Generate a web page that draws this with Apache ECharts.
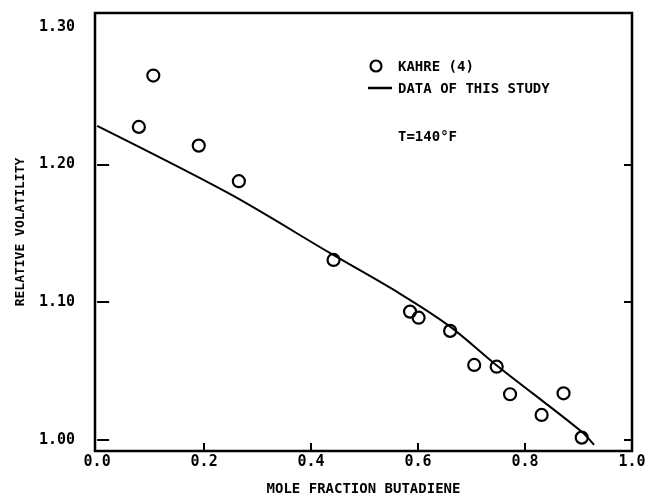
<!DOCTYPE html>
<html><head><meta charset="utf-8">
<script src="https://cdn.jsdelivr.net/npm/echarts@6/dist/echarts.min.js"></script>
<style>html,body{margin:0;padding:0;background:#fff}#c{width:648px;height:497px}</style>
</head><body><div id="c"></div>
<script>
const kahreX = [0.078, 0.105, 0.190, 0.265, 0.442, 0.585, 0.601, 0.660, 0.705, 0.747, 0.772, 0.831, 0.872, 0.906];
const kahreY = [1.2273, 1.2646, 1.2137, 1.1879, 1.1307, 1.0932, 1.0888, 1.0792, 1.0545, 1.0532, 1.0332, 1.0182, 1.0339, 1.0017];
const studyX = [0.0, 0.248, 0.435, 0.565, 0.660, 0.746, 0.906, 0.929];
const studyY = [1.228, 1.1786, 1.1358, 1.1065, 1.0823, 1.0545, 1.006, 0.9964];
const xTicks = [0.0, 0.2, 0.4, 0.6, 0.8, 1.0];
const yTicks = [1.00, 1.10, 1.20, 1.30];
const xTitle = 'MOLE FRACTION BUTADIENE';
const yTitle = 'RELATIVE VOLATILITY';
const legendNames = ['KAHRE (4)', 'DATA OF THIS STUDY'];
const noteText = 'T=140°F';

const FONT = '"DejaVu Sans Mono", monospace';
const chart = echarts.init(document.getElementById('c'), null, {renderer: 'canvas'});
chart.setOption({
  animation: false,
  backgroundColor: '#fff',
  grid: {left: 95, right: 16, top: 13, bottom: 46, outerBoundsMode: 'none', containLabel: false, show: true, borderColor: '#000', borderWidth: 2.5, backgroundColor: 'transparent'},
  xAxis: {
    type: 'value', min: -0.004, max: 1.0,
    axisLine: {show: false},
    splitLine: {show: false},
    axisTick: {show: true, inside: true, length: 8, lineStyle: {color: '#000', width: 2}, customValues: xTicks.slice(1, 5)},
    axisLabel: {show: true, customValues: xTicks, formatter: v => v.toFixed(1), color: '#000', fontFamily: FONT, fontSize: 15, fontWeight: 'bold', margin: 4},
    name: xTitle, nameLocation: 'middle', nameGap: 31,
    nameTextStyle: {color: '#000', fontFamily: FONT, fontSize: 14, fontWeight: 'bold'}
  },
  yAxis: [{
    type: 'value', min: 0.992, max: 1.31,
    axisLine: {show: false},
    splitLine: {show: false},
    axisTick: {show: true, inside: true, length: 12, lineStyle: {color: '#000', width: 2}, customValues: yTicks.slice(0, 3)},
    axisLabel: {show: true, customValues: yTicks, formatter: v => v.toFixed(2), color: '#000', fontFamily: FONT, fontSize: 15, fontWeight: 'bold', margin: 20},
    name: yTitle, nameLocation: 'middle', nameGap: 68, nameRotate: 90,
    nameTextStyle: {color: '#000', fontFamily: FONT, fontSize: 13, fontWeight: 'bold'}
  }, {
    type: 'value', min: 0.992, max: 1.31, position: 'right',
    axisLine: {show: false}, splitLine: {show: false}, axisLabel: {show: false},
    axisTick: {show: true, inside: true, length: 8, lineStyle: {color: '#000', width: 2}, customValues: yTicks.slice(0, 3)}
  }],
  series: [{
    name: legendNames[1], type: 'line',
    xAxisIndex: 0, yAxisIndex: 0,
    data: studyX.map((x, i) => [x, studyY[i]]),
    smooth: 0.3, showSymbol: false, symbol: 'none',
    lineStyle: {color: '#000', width: 2}, z: 2
  }, {
    name: legendNames[0], type: 'line',
    xAxisIndex: 0, yAxisIndex: 0,
    data: kahreX.map((x, i) => [x, kahreY[i]]),
    lineStyle: {width: 0, opacity: 0},
    symbol: 'circle', symbolSize: 12, showSymbol: true, showAllSymbol: true,
    itemStyle: {color: 'rgba(255,255,255,0)', borderColor: '#000', borderWidth: 2.2, opacity: 1}, z: 5
  }],
  graphic: [
    {type: 'circle', shape: {cx: 376, cy: 66, r: 5.5}, style: {fill: '#fff', stroke: '#000', lineWidth: 2.2}},
    {type: 'text', x: 398, y: 67, style: {text: legendNames[0], fill: '#000', font: 'bold 14px ' + FONT, textVerticalAlign: 'middle'}},
    {type: 'line', shape: {x1: 368, y1: 88, x2: 392, y2: 88}, style: {stroke: '#000', lineWidth: 2.5}},
    {type: 'text', x: 398, y: 89, style: {text: legendNames[1], fill: '#000', font: 'bold 14px ' + FONT, textVerticalAlign: 'middle'}},
    {type: 'text', x: 398, y: 137, style: {text: noteText, fill: '#000', font: 'bold 14px ' + FONT, textVerticalAlign: 'middle'}}
  ]
});
</script></body></html>
